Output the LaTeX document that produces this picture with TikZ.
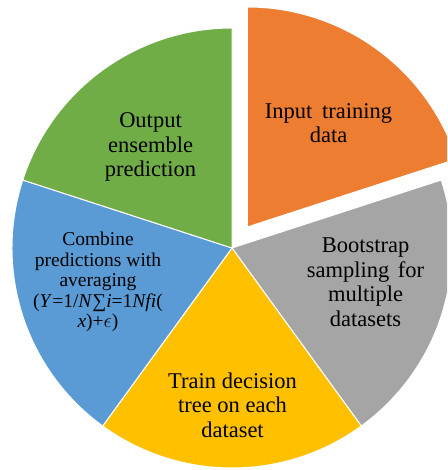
\documentclass[tikz,border=0pt]{standalone}
\usepackage{fontspec}
\setmainfont{Liberation Serif}
\definecolor{cOrange}{HTML}{ED7D31}
\definecolor{cGray}{HTML}{A5A5A5}
\definecolor{cYellow}{HTML}{FFC000}
\definecolor{cBlue}{HTML}{5B9BD5}
\definecolor{cGreen}{HTML}{70AD47}
\begin{document}
\begin{tikzpicture}[x=1pt,y=1pt,
  slice/.style={draw=white, line width=1pt, line join=round},
  lbl/.style={align=center, font=\fontsize{22.5}{24.5}\selectfont, inner sep=0pt},
  lblsmall/.style={align=center, font=\fontsize{19.5}{20.5}\selectfont, inner sep=0pt}]
\useasboundingbox (0,0) rectangle (447,470);
\clip (0,0) rectangle (447,470);
\coordinate (C) at (232,222);
\coordinate (E) at (247.3,243);
% slices
\filldraw[slice, fill=cOrange] (E) -- ++(90:220) arc[start angle=90, end angle=18, radius=220] -- cycle;
\filldraw[slice, fill=cGray] (C) -- ++(18:220) arc[start angle=18, end angle=-54, radius=220] -- cycle;
\filldraw[slice, fill=cYellow] (C) -- ++(-54:220) arc[start angle=-54, end angle=-126, radius=220] -- cycle;
\filldraw[slice, fill=cBlue] (C) -- ++(-126:220) arc[start angle=-126, end angle=-198, radius=220] -- cycle;
\filldraw[slice, fill=cGreen] (C) -- ++(162:220) arc[start angle=162, end angle=90, radius=220] -- cycle;
% labels
\node[lbl] (input) at (328.5,346.6) {Input\hspace{4pt} training\\data};
\node[lbl] (boot) at (365.5,187.6) {Bootstrap\\sampling\hspace{3pt} for\\multiple\\datasets};
\node[lbl] (train) at (232.5,65) {Train decision\\tree on each\\dataset};
\node[lblsmall] (comb) at (98,188) {Combine\\predictions with\\averaging\\(\textit{Y}=1/\textit{N}∑\textit{i}=1\textit{Nfi}(\\\textit{x})+$\epsilon$)};
\node[lbl] (out) at (150.5,322.7) {Output\\ensemble\\prediction};
\end{tikzpicture}
\end{document}
